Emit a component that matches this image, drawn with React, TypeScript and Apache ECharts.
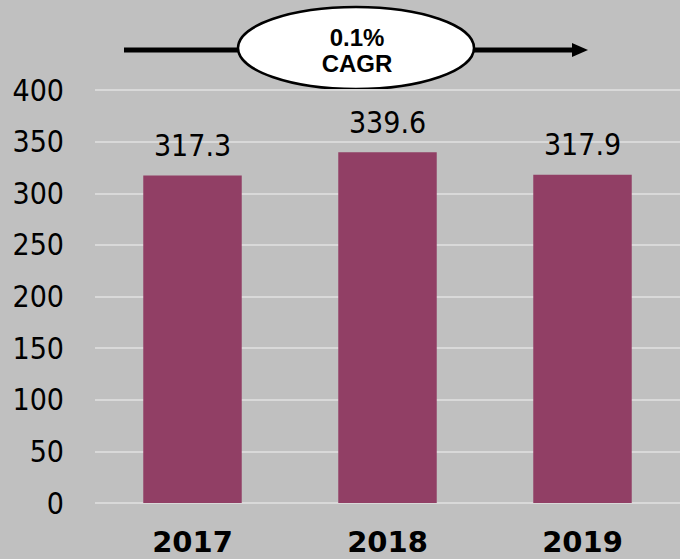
import React, { useEffect, useRef } from "react";
import * as echarts from "echarts";

const categories = ["2017", "2018", "2019"];
const values = [317.3, 339.6, 317.9];
const cagrLabel = "0.1%\nCAGR";

const numFont = "'DejaVu Sans Condensed', 'DejaVu Sans', sans-serif";

export default function App() {
  const ref = useRef<HTMLDivElement>(null);
  useEffect(() => {
    const chart = echarts.init(ref.current!, null, { renderer: "svg" });
    chart.setOption({
      animation: false,
      backgroundColor: "#c0c0c0",
      grid: { left: 95, right: -2, top: 90, bottom: 56, containLabel: false },
      xAxis: {
        type: "category",
        data: categories,
        axisLine: { show: false },
        axisTick: { show: false },
        axisLabel: {
          margin: 22,
          color: "#000",
          fontFamily: "DejaVu Sans",
          fontWeight: "bold",
          fontSize: 29,
          lineHeight: 33,
        },
      },
      yAxis: {
        type: "value",
        min: 0,
        max: 400,
        interval: 50,
        axisLine: { show: false },
        axisTick: { show: false },
        splitLine: { lineStyle: { color: "#d9d9d9", width: 2 } },
        axisLabel: {
          margin: 31,
          color: "#000",
          fontFamily: numFont,
          fontSize: 30,
        },
      },
      series: [
        {
          type: "bar",
          data: values,
          barWidth: "50.5%",
          itemStyle: { color: "#913f65" },
          label: {
            show: true,
            position: "top",
            distance: 15,
            color: "#000",
            fontFamily: numFont,
            fontSize: 30,
            formatter: (p: any) => p.value.toFixed(1),
          },
        },
      ],
      graphic: [
        {
          type: "line",
          shape: { x1: 124, y1: 50, x2: 575, y2: 50 },
          style: { stroke: "#000", lineWidth: 5 },
        },
        {
          type: "polygon",
          shape: { points: [[572, 43], [588, 50], [572, 57]] },
          style: { fill: "#000" },
        },
        {
          type: "ellipse",
          shape: { cx: 356, cy: 48, rx: 118, ry: 41 },
          style: { fill: "#fff", stroke: "#000", lineWidth: 2.5 },
        },
        {
          type: "text",
          x: 357,
          y: 50,
          style: {
            text: cagrLabel,
            align: "center",
            verticalAlign: "middle",
            fontFamily: "Liberation Sans",
            fontWeight: "bold",
            fontSize: 24,
            lineHeight: 26,
            fill: "#000",
          },
        },
      ],
    });
    return () => chart.dispose();
  }, []);
  return (
    <div
      ref={ref}
      style={{ position: "absolute", left: 0, top: 0, width: 680, height: 559 }}
    />
  );
}
